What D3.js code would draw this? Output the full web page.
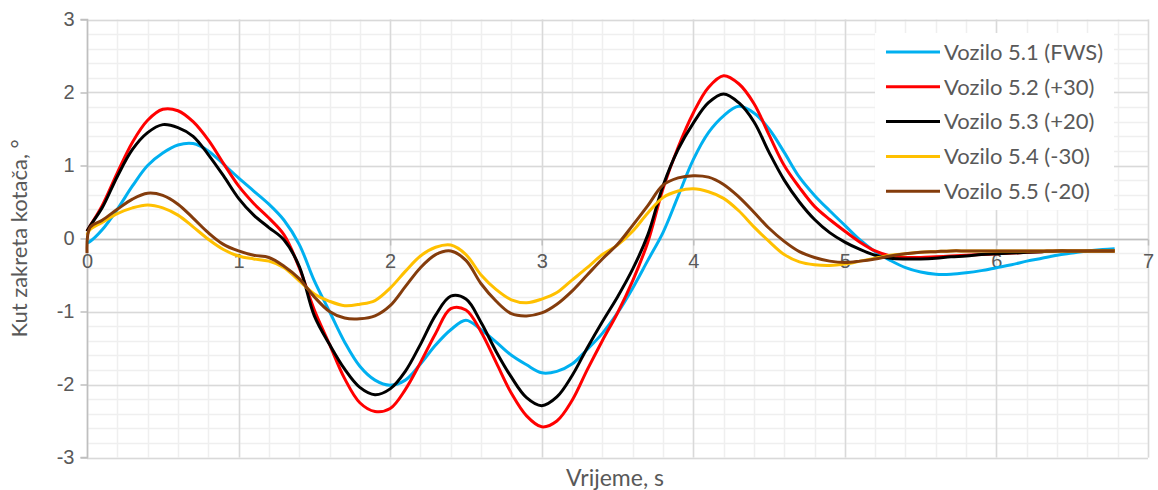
<!DOCTYPE html>
<html>
<head>
<meta charset="utf-8">
<script src="https://cdn.jsdelivr.net/npm/d3@7"></script>
<style>
  body { margin: 0; background: #fff; }
  svg { display: block; font-family: Lato, "Open Sans", sans-serif; }
  .tick text { fill: #595959; font-size: 20px; }
</style>
</head>
<body>
<svg></svg>
<script>
var width = 1158;
var height = 490;

// time, s
var time = [0, 0.02, 0.1, 0.2, 0.3, 0.4, 0.5, 0.6, 0.7, 0.8, 0.9,
  1.0, 1.1, 1.2, 1.3, 1.4, 1.5, 1.6, 1.7, 1.8, 1.9,
  2.0, 2.1, 2.2, 2.3, 2.4, 2.5, 2.6, 2.7, 2.8, 2.9,
  3.0, 3.1, 3.2, 3.3, 3.4, 3.5, 3.6, 3.7, 3.8, 3.9,
  4.0, 4.1, 4.2, 4.3, 4.4, 4.5, 4.6, 4.7, 4.8, 4.9,
  5.0, 5.1, 5.2, 5.3, 5.4, 5.5, 5.6, 5.7, 5.8, 5.9,
  6.0, 6.1, 6.2, 6.3, 6.4, 6.5, 6.6, 6.7, 6.78];

var vozilo51 = [-0.06, -0.04, 0.12, 0.40, 0.72, 1.00, 1.17, 1.28, 1.30, 1.20, 1.02,
  0.83, 0.65, 0.47, 0.25, -0.08, -0.58, -1.00, -1.42, -1.75, -1.94,
  -2.01, -1.94, -1.72, -1.46, -1.25, -1.12, -1.25, -1.42, -1.60, -1.73,
  -1.84, -1.82, -1.72, -1.52, -1.30, -1.02, -0.68, -0.30, 0.08, 0.58,
  1.08, 1.45, 1.68, 1.81, 1.72, 1.50, 1.18, 0.84, 0.59, 0.38,
  0.18, -0.02, -0.18, -0.30, -0.40, -0.46, -0.49, -0.49, -0.47, -0.44,
  -0.40, -0.36, -0.31, -0.27, -0.23, -0.20, -0.17, -0.15, -0.14];

var vozilo52 = [0.10, 0.17, 0.45, 0.90, 1.32, 1.62, 1.77, 1.75, 1.60, 1.35, 1.03,
  0.72, 0.48, 0.28, 0.05, -0.40, -0.98, -1.45, -1.92, -2.25, -2.37,
  -2.33, -2.07, -1.70, -1.30, -0.96, -0.98, -1.28, -1.70, -2.12, -2.43,
  -2.58, -2.50, -2.22, -1.80, -1.40, -1.02, -0.58, -0.05, 0.68, 1.25,
  1.72, 2.07, 2.23, 2.12, 1.85, 1.42, 1.00, 0.70, 0.44, 0.26,
  0.10, -0.05, -0.17, -0.24, -0.26, -0.26, -0.25, -0.24, -0.23, -0.22,
  -0.21, -0.20, -0.19, -0.18, -0.17, -0.17, -0.17, -0.17, -0.17];

var vozilo53 = [0.10, 0.17, 0.42, 0.85, 1.22, 1.45, 1.56, 1.52, 1.40, 1.15, 0.86,
  0.55, 0.32, 0.15, -0.02, -0.38, -1.06, -1.45, -1.79, -2.04, -2.14,
  -2.06, -1.82, -1.45, -1.05, -0.79, -0.83, -1.15, -1.55, -1.90, -2.18,
  -2.29, -2.17, -1.88, -1.50, -1.14, -0.80, -0.42, 0.05, 0.72, 1.22,
  1.58, 1.86, 1.98, 1.86, 1.60, 1.18, 0.80, 0.50, 0.26, 0.08,
  -0.05, -0.15, -0.23, -0.27, -0.28, -0.28, -0.27, -0.25, -0.24, -0.22,
  -0.21, -0.20, -0.19, -0.18, -0.17, -0.17, -0.17, -0.17, -0.17];

var vozilo54 = [0.05, 0.12, 0.22, 0.34, 0.42, 0.46, 0.42, 0.32, 0.16, -0.01, -0.15,
  -0.24, -0.28, -0.31, -0.40, -0.58, -0.76, -0.86, -0.92, -0.90, -0.85,
  -0.68, -0.45, -0.24, -0.12, -0.09, -0.22, -0.50, -0.70, -0.84, -0.88,
  -0.83, -0.74, -0.57, -0.40, -0.22, -0.09, 0.10, 0.35, 0.56, 0.65,
  0.68, 0.64, 0.55, 0.38, 0.16, -0.04, -0.22, -0.32, -0.36, -0.37,
  -0.35, -0.31, -0.27, -0.23, -0.21, -0.19, -0.18, -0.17, -0.17, -0.17,
  -0.17, -0.17, -0.17, -0.17, -0.17, -0.17, -0.17, -0.17, -0.17];

var vozilo55 = [-0.20, 0.15, 0.25, 0.40, 0.54, 0.62, 0.59, 0.47, 0.28, 0.08, -0.08,
  -0.17, -0.23, -0.26, -0.38, -0.55, -0.80, -1.00, -1.09, -1.10, -1.06,
  -0.92, -0.66, -0.40, -0.22, -0.17, -0.30, -0.62, -0.86, -1.03, -1.06,
  -1.02, -0.90, -0.72, -0.50, -0.28, -0.08, 0.18, 0.45, 0.73, 0.83,
  0.86, 0.84, 0.74, 0.57, 0.36, 0.14, -0.04, -0.18, -0.26, -0.31,
  -0.33, -0.31, -0.28, -0.24, -0.21, -0.19, -0.18, -0.17, -0.17, -0.17,
  -0.17, -0.17, -0.17, -0.17, -0.17, -0.17, -0.17, -0.17, -0.17];

var seriesNames = ["Vozilo 5.1 (FWS)", "Vozilo 5.2 (+30)", "Vozilo 5.3 (+20)", "Vozilo 5.4 (-30)", "Vozilo 5.5 (-20)"];
var seriesValues = [vozilo51, vozilo52, vozilo53, vozilo54, vozilo55];
var colors = ["#00b0f0", "#ff0000", "#000000", "#ffc000", "#843c0c"];

var xTicks = [0, 1, 2, 3, 4, 5, 6, 7];
var yTicks = [-3, -2, -1, 0, 1, 2, 3];
var xTitle = "Vrijeme, s";
var yTitle = "Kut zakreta kotača, °";

var svg = d3
  .select("svg")
  .attr("width", width)
  .attr("height", height);

var xScale = d3
  .scaleLinear()
  .domain([0, 7])
  .range([87, 1148]);

var yScale = d3
  .scaleLinear()
  .domain([-3, 3])
  .range([457.5, 19.5]);

// minor grid
var minorX = d3.range(0, 7.001, 0.2);
var minorY = d3.range(-3, 3.001, 0.2);

svg
  .append("g")
  .selectAll("line")
  .data(minorX)
  .enter()
  .append("line")
  .attr("x1", d => Math.round(xScale(d)) + 0.5)
  .attr("x2", d => Math.round(xScale(d)) + 0.5)
  .attr("y1", yScale(3))
  .attr("y2", yScale(-3))
  .attr("stroke", "#efefef")
  .attr("stroke-width", 1.5);

svg
  .append("g")
  .selectAll("line")
  .data(minorY)
  .enter()
  .append("line")
  .attr("x1", xScale(0))
  .attr("x2", xScale(7))
  .attr("y1", d => Math.round(yScale(d)) + 0.5)
  .attr("y2", d => Math.round(yScale(d)) + 0.5)
  .attr("stroke", "#efefef")
  .attr("stroke-width", 1.5);

// major grid
svg
  .append("g")
  .selectAll("line")
  .data(xTicks)
  .enter()
  .append("line")
  .attr("x1", d => Math.round(xScale(d)) + 0.5)
  .attr("x2", d => Math.round(xScale(d)) + 0.5)
  .attr("y1", yScale(3))
  .attr("y2", yScale(-3))
  .attr("stroke", "#d9d9d9")
  .attr("stroke-width", 1.5);

svg
  .append("g")
  .selectAll("line")
  .data(yTicks)
  .enter()
  .append("line")
  .attr("x1", xScale(0))
  .attr("x2", xScale(7))
  .attr("y1", d => Math.round(yScale(d)) + 0.5)
  .attr("y2", d => Math.round(yScale(d)) + 0.5)
  .attr("stroke", "#d9d9d9")
  .attr("stroke-width", 1.5);

// axes
var fmt = d => String(d);

var yAxis = svg
  .append("g")
  .attr("transform", "translate(" + (Math.round(xScale(0)) + 0.5) + ",0)")
  .call(d3.axisLeft(yScale).tickValues(yTicks).tickFormat(fmt).tickSize(7).tickPadding(6));

var xAxis = svg
  .append("g")
  .attr("transform", "translate(0," + (Math.round(yScale(0)) + 0.5) + ")")
  .call(d3.axisBottom(xScale).tickValues(xTicks).tickFormat(fmt).tickSize(6).tickPadding(8));

svg.selectAll(".domain").attr("stroke", "#bfbfbf").attr("stroke-width", 1.5);
svg.selectAll(".tick line").attr("stroke", "#bfbfbf").attr("stroke-width", 1.5);
yAxis.select(".domain").attr("d", "M-7," + yScale(3) + "H0V" + yScale(-3) + "H-7");
xAxis.select(".domain").attr("d", "M" + xScale(0) + ",0H" + xScale(7));

// lines
var line = d3
  .line()
  .x((d, i) => xScale(time[i]))
  .y(d => yScale(d))
  .curve(d3.curveCatmullRom.alpha(0.5));

svg
  .append("g")
  .selectAll("path")
  .data(seriesValues)
  .enter()
  .append("path")
  .attr("d", d => line(d))
  .attr("fill", "none")
  .attr("stroke", (d, i) => colors[i])
  .attr("stroke-width", 3)
  .attr("stroke-linejoin", "round");

// legend
var legend = svg.append("g");

legend
  .append("rect")
  .attr("x", 875)
  .attr("y", 33)
  .attr("width", 239)
  .attr("height", 177)
  .attr("fill", "#fff");

var item = legend
  .selectAll("g")
  .data(seriesNames)
  .enter()
  .append("g")
  .attr("transform", (d, i) => "translate(0," + (52 + i * 34.8) + ")");

item
  .append("line")
  .attr("x1", 886)
  .attr("x2", 940)
  .attr("stroke", (d, i) => colors[i])
  .attr("stroke-width", 3);

item
  .append("text")
  .attr("x", 944)
  .attr("dy", "0.35em")
  .attr("fill", "#595959")
  .style("font-size", "22px")
  .text(d => d);

// titles
svg
  .append("text")
  .attr("x", 615)
  .attr("y", 486)
  .attr("text-anchor", "middle")
  .attr("fill", "#595959")
  .style("font-size", "23px")
  .text(xTitle);

svg
  .append("text")
  .attr("transform", "translate(27," + yScale(0) + ") rotate(-90)")
  .attr("text-anchor", "middle")
  .attr("fill", "#595959")
  .style("font-size", "22px")
  .text(yTitle);
</script>
</body>
</html>
